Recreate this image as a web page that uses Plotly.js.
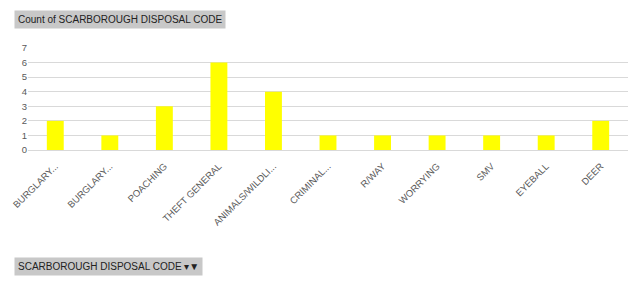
<!DOCTYPE html>
<html><head><meta charset="utf-8">
<script src="https://cdn.plot.ly/plotly-3.0.1.min.js"></script>
<style>html,body{margin:0;padding:0;background:#fff;}#c{width:630px;height:287px;}</style>
</head><body><div id="c"></div>
<script>
const categories = ["BURGLARY...", "BURGLARY...", "POACHING", "THEFT GENERAL", "ANIMALS/WILDLI...", "CRIMINAL...", "R/WAY", "WORRYING", "SMV", "EYEBALL", "DEER"];
const counts = [2, 1, 3, 6, 4, 1, 1, 1, 1, 1, 2];
const yTicks = [0, 1, 2, 3, 4, 5, 6, 7];
const chartTitle = "Count of SCARBOROUGH DISPOSAL CODE";
const fieldButton = "SCARBOROUGH DISPOSAL CODE \u25BE\u25BC";

const positions = categories.map((_, i) => i);
const data = [{
  type: 'bar', x: positions, y: counts,
  marker: {color: '#ffff00'}, width: 0.31, hoverinfo: 'skip'
}];
const layout = {
  width: 630, height: 287,
  margin: {l: 28, r: 2, t: 48, b: 137},
  paper_bgcolor: '#fff', plot_bgcolor: '#fff',
  showlegend: false,
  font: {family: 'Liberation Sans, Arial, sans-serif', color: '#595959', size: 9},
  xaxis: {
    range: [-0.5, categories.length - 0.5],
    tickmode: 'array', tickvals: positions, ticktext: categories,
    tickangle: -45, showgrid: false, zeroline: false, showline: false,
    ticks: 'outside', ticklen: 6, tickcolor: 'rgba(0,0,0,0)',
    tickfont: {size: 9.5, color: '#595959'}
  },
  yaxis: {
    range: [0, 7], tickmode: 'array', tickvals: yTicks,
    showgrid: true, gridcolor: '#d9d9d9', gridwidth: 1,
    zeroline: true, zerolinecolor: '#d9d9d9', showline: false, ticks: '',
    tickfont: {size: 9.5, color: '#595959'}
  },
  annotations: [
    {text: chartTitle, xref: 'paper', yref: 'paper', x: 0, y: 1, xanchor: 'left', yanchor: 'bottom',
     xshift: -14, yshift: 19, showarrow: false, bgcolor: '#c8c8c8', borderpad: 3,
     font: {size: 10, color: '#222', family: 'Liberation Sans, Arial, sans-serif'}},
    {text: fieldButton, xref: 'paper', yref: 'paper', x: 0, y: 0, xanchor: 'left', yanchor: 'top',
     xshift: -14, yshift: -107, showarrow: false, bgcolor: '#c8c8c8', borderpad: 3,
     font: {size: 10, color: '#222', family: 'Liberation Sans, Arial, sans-serif'}}
  ]
};
Plotly.newPlot('c', data, layout, {displayModeBar: false, staticPlot: true});
</script></body></html>
